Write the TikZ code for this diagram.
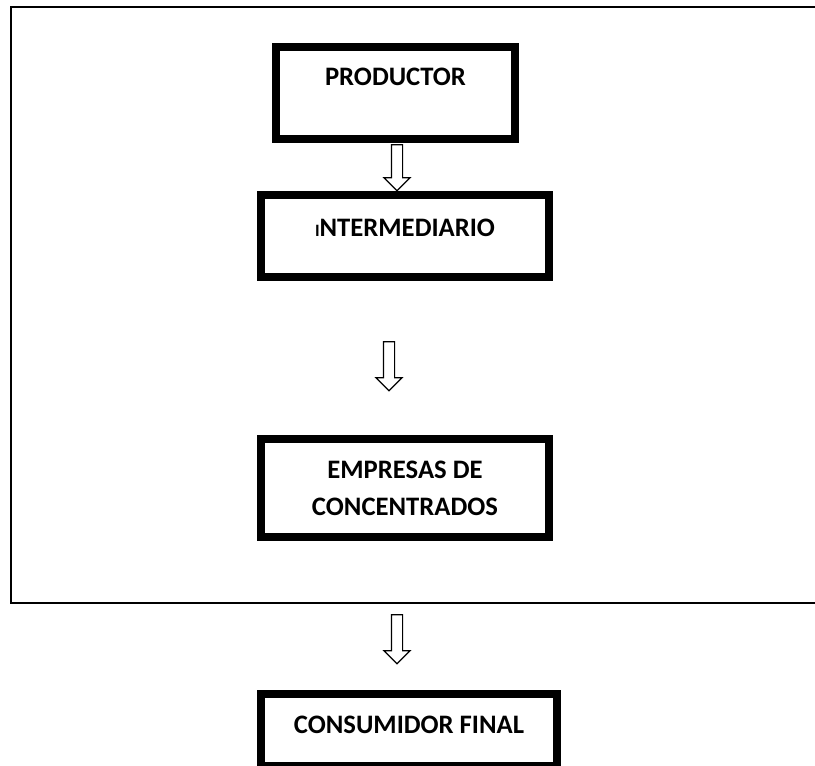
\documentclass[tikz,border=0pt]{standalone}
\usepackage{fontspec}
\setmainfont{Carlito}
\usetikzlibrary{shapes.arrows}
\tikzset{
  frame-line/.style={draw=black,line width=1.5pt},
  node-box/.style={draw=black,line width=6pt,inner sep=0pt,align=center,
    font=\fontsize{20}{27.75}\selectfont\bfseries},
  node-arrow/.style={draw=black,line width=0.9pt,single arrow,
    shape border rotate=270,inner sep=3.75pt,single arrow head extend=5.6pt,
    single arrow tip angle=90},
}

\begin{document}
\begin{tikzpicture}[x=0.75pt,y=-0.75pt]
  \useasboundingbox (0,0) rectangle (815,766);
  % marco exterior (sigue fuera de la hoja a la derecha)
  \draw[frame-line] (815,7) -- (11,7) -- (11,603) -- (815,603);
  \node[node-box,minimum width=179.25pt,minimum height=69pt,
    text height=29.25pt,text depth=39.75pt] (prod) at (395.5,93) {PRODUCTOR};
  \node[node-box,minimum width=216pt,minimum height=61.5pt,
    text height=30.4pt,text depth=31.1pt] (inter) at (405,236.5)
    {{\fontsize{13}{13}\selectfont I}NTERMEDIARIO};
  \node[node-box,minimum width=216pt,minimum height=73.9pt] (emp) at (405,488)
    {EMPRESAS DE\\CONCENTRADOS};
  \node[node-box,minimum width=222pt,minimum height=53.6pt,
    text height=28.9pt,text depth=24.75pt] (cons) at (409,730.25)
    {CONSUMIDOR FINAL};
  \node[node-arrow,minimum height=34.5pt] (arr1) at (397,165) {};
  \node[node-arrow,minimum height=36.75pt] (arr2) at (389,363.5) {};
  \node[node-arrow,minimum height=36.75pt] (arr3) at (397,636.5) {};
\end{tikzpicture}
\end{document}
